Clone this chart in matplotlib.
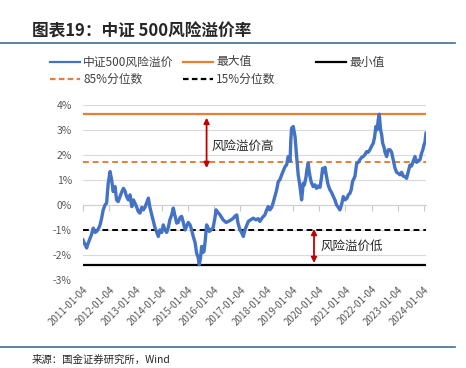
import matplotlib
matplotlib.use("Agg")
import matplotlib.pyplot as plt
from matplotlib.lines import Line2D
import numpy as np
import datetime as dt

plt.rcParams['font.family'] = ['Noto Sans CJK SC', 'DejaVu Sans']

# ---- data (decimal years since 2011-01-04, premium in %) ----
t_years = [
    2011.00, 2011.06, 2011.14, 2011.19, 2011.27, 2011.32, 2011.39, 2011.46, 2011.52, 2011.59,
    2011.65, 2011.71, 2011.77, 2011.84, 2011.90, 2011.96, 2012.03, 2012.09, 2012.15, 2012.22,
    2012.28, 2012.34, 2012.41, 2012.47, 2012.54, 2012.60, 2012.66, 2012.73, 2012.79, 2012.86,
    2012.92, 2012.98, 2013.05, 2013.11, 2013.17, 2013.24, 2013.30, 2013.36, 2013.49, 2013.55,
    2013.62, 2013.68, 2013.74, 2013.81, 2013.87, 2013.93, 2014.00, 2014.06, 2014.12, 2014.19,
    2014.25, 2014.31, 2014.38, 2014.44, 2014.50, 2014.57, 2014.63, 2014.70, 2014.76, 2014.82,
    2014.89, 2014.95, 2015.01, 2015.08, 2015.14, 2015.20, 2015.27, 2015.33, 2015.39, 2015.43,
    2015.48, 2015.52, 2015.57, 2015.61, 2015.66, 2015.71, 2015.76, 2015.81, 2015.88, 2015.96,
    2016.03, 2016.07, 2016.14, 2016.22, 2016.28, 2016.34, 2016.45, 2016.54, 2016.64, 2016.73,
    2016.79, 2016.86, 2016.90, 2016.98, 2017.04, 2017.11, 2017.17, 2017.30, 2017.38, 2017.49,
    2017.59, 2017.67, 2017.74, 2017.84, 2017.93, 2018.00, 2018.06, 2018.12, 2018.19, 2018.25,
    2018.31, 2018.38, 2018.44, 2018.50, 2018.57, 2018.63, 2018.70, 2018.76, 2018.82, 2018.89,
    2018.92, 2018.95, 2019.01, 2019.08, 2019.14, 2019.20, 2019.27, 2019.33, 2019.36, 2019.39,
    2019.44, 2019.50, 2019.53, 2019.58, 2019.61, 2019.65, 2019.70, 2019.77, 2019.84, 2019.90,
    2019.96, 2020.03, 2020.09, 2020.13, 2020.17, 2020.22, 2020.28, 2020.34, 2020.41, 2020.47,
    2020.54, 2020.60, 2020.66, 2020.73, 2020.79, 2020.85, 2020.92, 2020.98, 2021.05, 2021.11,
    2021.17, 2021.22, 2021.27, 2021.36, 2021.43, 2021.49, 2021.55, 2021.62, 2021.68, 2021.74,
    2021.81, 2021.87, 2021.93, 2022.00, 2022.06, 2022.11, 2022.16, 2022.21, 2022.25, 2022.29,
    2022.34, 2022.38, 2022.42, 2022.47, 2022.50, 2022.57, 2022.63, 2022.70, 2022.76, 2022.82,
    2022.89, 2022.95, 2023.01, 2023.08, 2023.14, 2023.20, 2023.27, 2023.33, 2023.39, 2023.46,
    2023.52, 2023.58, 2023.65, 2023.71, 2023.77, 2023.84, 2023.90, 2023.95, 2023.99, 2024.03,
    2024.07,
]
premium = [
    -1.40, -1.55, -1.72, -1.55, -1.33, -1.20, -0.93, -1.10, -1.06, -0.95,
    -0.80, -0.53, -0.20, 0.00, 0.07, 0.86, 1.33, 1.00, 0.53, 0.73,
    0.20, 0.13, 0.33, 0.50, 0.66, 0.55, 0.33, 0.20, 0.40, -0.07,
    0.20, 0.07, -0.10, -0.27, -0.33, -0.10, -0.20, -0.10, 0.27, -0.10,
    -0.40, -0.66, -0.90, -1.10, -1.26, -1.00, -1.10, -0.80, -1.00, -1.10,
    -0.90, -0.60, -0.40, -0.13, -0.40, -0.73, -0.70, -0.50, -0.46, -0.70,
    -1.00, -0.85, -0.70, -0.80, -1.00, -1.26, -1.50, -1.93, -2.10, -2.39,
    -2.10, -1.66, -1.90, -1.86, -1.40, -0.80, -0.90, -1.06, -1.00, -0.90,
    -0.50, -0.20, -0.30, -0.40, -0.50, -0.60, -0.70, -0.66, -0.60, -0.53,
    -0.45, -0.40, -0.70, -1.00, -1.10, -1.26, -1.00, -0.66, -0.60, -0.53,
    -0.60, -0.55, -0.66, -0.50, -0.40, -0.20, -0.07, -0.20, -0.10, 0.10,
    0.33, 0.60, 0.93, 1.00, 1.20, 1.35, 1.53, 1.60, 1.93, 1.75,
    2.60, 3.06, 3.13, 2.73, 1.93, 1.20, 0.73, 0.20, 0.50, 0.86,
    0.80, 1.13, 1.40, 1.66, 1.40, 1.13, 0.90, 0.73, 0.80, 0.66,
    0.75, 0.70, 1.10, 1.46, 1.30, 1.50, 1.13, 0.80, 0.60, 0.50,
    0.33, 0.20, 0.00, -0.10, -0.20, 0.00, 0.33, 0.20, 0.25, 0.40,
    0.46, 0.60, 0.93, 1.13, 1.66, 1.70, 1.80, 1.90, 1.93, 2.00,
    2.13, 2.10, 2.20, 2.35, 2.46, 2.70, 3.13, 3.00, 3.40, 3.62,
    2.99, 2.80, 2.46, 2.30, 2.13, 1.93, 2.20, 2.20, 2.10, 1.80,
    1.46, 1.30, 1.26, 1.20, 1.30, 1.15, 1.13, 1.06, 1.30, 1.59,
    1.55, 1.73, 1.93, 1.70, 1.75, 1.80, 2.06, 2.20, 2.39, 2.50,
    2.86,
]
max_value = 3.62
min_value = -2.39
pct85 = 1.73
pct15 = -1.00
tick_labels = ['2011-01-04', '2012-01-04', '2013-01-04', '2014-01-04', '2015-01-04',
               '2016-01-04', '2017-01-04', '2018-01-04', '2019-01-04', '2020-01-04',
               '2021-01-04', '2022-01-04', '2023-01-04', '2024-01-04']
y_ticks = [-3, -2, -1, 0, 1, 2, 3, 4]

base = dt.datetime(2011, 1, 4)
dates = [base + dt.timedelta(days=(y - 2011.0) * 365.25) for y in t_years]
tick_dates = [dt.datetime.strptime(s, '%Y-%m-%d') for s in tick_labels]

W, H = 466, 368
fig = plt.figure(figsize=(W / 100, H / 100), dpi=100)

# title and rules
fig.text(32 / W, 1 - 32 / H, '图表19：中证 500风险溢价率', fontsize=12, fontweight='bold',
         style='italic', color='#262626', va='center', ha='left')
fig.add_artist(Line2D([0, 455 / W], [1 - 42.7 / H, 1 - 42.7 / H], color='#3F6F94', lw=1.2))
fig.add_artist(Line2D([0, 455 / W], [1 - 347.3 / H, 1 - 347.3 / H], color='#3F6F94', lw=1.2))
fig.text(32 / W, 1 - 360 / H, '来源：国金证券研究所，Wind', fontsize=7.5, color='#262626',
         va='center', ha='left')

# legend (manual)
blue = '#4472C4'
orange = '#ED7D31'
leg_items = [
    (50, 62, blue, '-', '中证500风险溢价'),
    (183, 62, orange, '-', '最大值'),
    (316, 62, 'black', '-', '最小值'),
    (50, 79, orange, '--', '85%分位数'),
    (183, 79, 'black', '--', '15%分位数'),
]
for x0, y0, c, ls, lab in leg_items:
    fig.add_artist(Line2D([x0 / W, (x0 + 30) / W], [1 - y0 / H, 1 - y0 / H], color=c, lw=1.6,
                          linestyle=ls, dashes=(2.5, 1.5) if ls == '--' else (None, None)))
    fig.text((x0 + 33) / W, 1 - y0 / H, lab, fontsize=8.5, color='#404040', va='center', ha='left')

# axes
ax = fig.add_axes([83 / W, 1 - 280 / H, (426 - 83) / W, (280 - 104.7) / H])
ax.set_ylim(-3, 4)
ax.set_xlim(dates[0], dates[-1])
ax.set_yticks(y_ticks)
ax.set_yticklabels([f'{v}%' for v in y_ticks], fontsize=7.5, color='#595959')
ax.tick_params(axis='y', length=0, pad=8)
for v in y_ticks:
    ax.axhline(v, color='#D9D9D9', lw=0.8, zorder=0)
for s in ['top', 'right', 'left']:
    ax.spines[s].set_visible(False)
ax.spines['bottom'].set_position(('data', 0))
ax.spines['bottom'].set_color('#D0D0D0')
ax.set_xticks(tick_dates)
ax.tick_params(axis='x', length=4, color='#C8C8C8', labelbottom=False, direction='out')

sec = ax.secondary_xaxis('bottom')
sec.set_xticks(tick_dates)
sec.set_xticklabels(tick_labels, rotation=45, ha='right', rotation_mode='anchor',
                    fontsize=7, color='#595959')
sec.tick_params(length=0, pad=3)
sec.spines['bottom'].set_visible(False)

ax.axhline(max_value, color=orange, lw=1.6, zorder=2)
ax.axhline(min_value, color='black', lw=1.6, zorder=2)
ax.axhline(pct85, color=orange, lw=1.4, ls='--', dashes=(3, 2), zorder=2)
ax.axhline(pct15, color='black', lw=1.4, ls='--', dashes=(3, 2), zorder=2)

ax.plot(dates, premium, color=blue, lw=2.4, zorder=3)

# annotations
red = '#C00000'
arrow_x1 = dt.datetime(2015, 9, 20)
ax.annotate('', xy=(arrow_x1, 3.48), xytext=(arrow_x1, 1.47),
            arrowprops=dict(arrowstyle='<|-|>', color=red, lw=1.3, mutation_scale=8,
                            shrinkA=0, shrinkB=0))
ax.text(dt.datetime(2015, 11, 25), 2.33, '风险溢价高', fontsize=9,
        color='#262626', va='center', ha='left')
arrow_x2 = dt.datetime(2019, 10, 24)
ax.annotate('', xy=(arrow_x2, -0.96), xytext=(arrow_x2, -2.32),
            arrowprops=dict(arrowstyle='<|-|>', color=red, lw=1.3, mutation_scale=8,
                            shrinkA=0, shrinkB=0))
ax.text(dt.datetime(2020, 1, 20), -1.66, '风险溢价低', fontsize=9,
        color='#262626', va='center', ha='left')

fig.savefig('out.png', dpi=100)
